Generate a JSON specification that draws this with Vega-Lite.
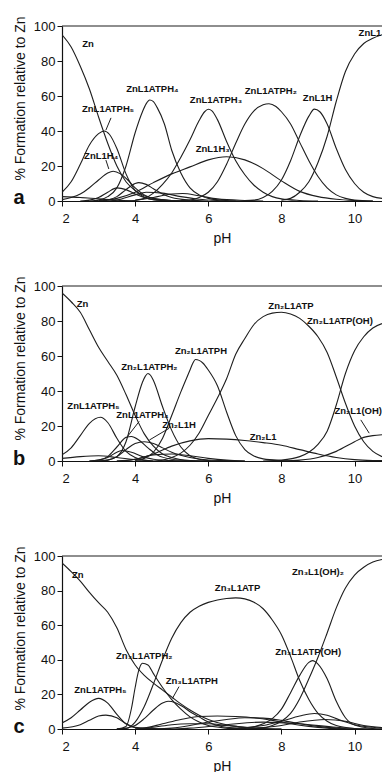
{
"$schema": "https://vega.github.io/schema/vega-lite/v6.json",
"padding": {"left": 12, "top": 15, "right": 0, "bottom": 0},
"config": {
  "font": "Liberation Sans",
  "view": {"stroke": null},
  "axis": {"grid": false, "domainColor": "#111", "domainWidth": 1.2, "tickColor": "#111", "tickSize": 5, "labelColor": "#111", "labelFontSize": 13, "titleColor": "#111", "titleFontSize": 14, "titleFontWeight": "normal", "labelFont": "Liberation Sans", "titleFont": "Liberation Sans"},
  "axisX": {"labelPadding": 6, "titlePadding": 6},
  "axisY": {"labelPadding": 2, "titleX": -38, "titleY": 72, "titleAngle": 270, "titleBaseline": "alphabetic", "titleAlign": "center"}
},
"datasets": {
"a": [
{"sp":"Zn","pH":2,"pct":95},{"sp":"Zn","pH":2.25,"pct":88},{"sp":"Zn","pH":2.5,"pct":77},{"sp":"Zn","pH":2.75,"pct":64},{"sp":"Zn","pH":3,"pct":48},{"sp":"Zn","pH":3.25,"pct":33},{"sp":"Zn","pH":3.5,"pct":20},{"sp":"Zn","pH":3.75,"pct":11},{"sp":"Zn","pH":4,"pct":6},{"sp":"Zn","pH":4.25,"pct":3},{"sp":"Zn","pH":4.5,"pct":1.5},{"sp":"Zn","pH":5,"pct":0.3},{"sp":"Zn","pH":5.5,"pct":0},
{"sp":"ZnL1ATPH5","pH":2,"pct":5},{"sp":"ZnL1ATPH5","pH":2.25,"pct":11},{"sp":"ZnL1ATPH5","pH":2.5,"pct":21},{"sp":"ZnL1ATPH5","pH":2.75,"pct":32},{"sp":"ZnL1ATPH5","pH":3,"pct":38.5},{"sp":"ZnL1ATPH5","pH":3.15,"pct":40},{"sp":"ZnL1ATPH5","pH":3.3,"pct":38},{"sp":"ZnL1ATPH5","pH":3.5,"pct":30},{"sp":"ZnL1ATPH5","pH":3.75,"pct":15.5},{"sp":"ZnL1ATPH5","pH":4,"pct":6},{"sp":"ZnL1ATPH5","pH":4.25,"pct":2.2},{"sp":"ZnL1ATPH5","pH":4.5,"pct":0.8},{"sp":"ZnL1ATPH5","pH":5,"pct":0},
{"sp":"ZnL1H4","pH":2,"pct":0.8},{"sp":"ZnL1H4","pH":2.25,"pct":2},{"sp":"ZnL1H4","pH":2.5,"pct":4},{"sp":"ZnL1H4","pH":2.75,"pct":7.6},{"sp":"ZnL1H4","pH":3,"pct":12},{"sp":"ZnL1H4","pH":3.25,"pct":16},{"sp":"ZnL1H4","pH":3.4,"pct":17},{"sp":"ZnL1H4","pH":3.6,"pct":15.5},{"sp":"ZnL1H4","pH":3.8,"pct":12},{"sp":"ZnL1H4","pH":4,"pct":7.5},{"sp":"ZnL1H4","pH":4.25,"pct":3.5},{"sp":"ZnL1H4","pH":4.5,"pct":1.5},{"sp":"ZnL1H4","pH":5,"pct":0.3},{"sp":"ZnL1H4","pH":5.5,"pct":0},
{"sp":"ZnL1ATPH4","pH":2.75,"pct":0},{"sp":"ZnL1ATPH4","pH":3,"pct":0.5},{"sp":"ZnL1ATPH4","pH":3.25,"pct":2.5},{"sp":"ZnL1ATPH4","pH":3.5,"pct":7.5},{"sp":"ZnL1ATPH4","pH":3.75,"pct":20},{"sp":"ZnL1ATPH4","pH":4,"pct":39},{"sp":"ZnL1ATPH4","pH":4.2,"pct":51},{"sp":"ZnL1ATPH4","pH":4.3,"pct":55.5},{"sp":"ZnL1ATPH4","pH":4.4,"pct":57.7},{"sp":"ZnL1ATPH4","pH":4.5,"pct":56.8},{"sp":"ZnL1ATPH4","pH":4.6,"pct":53.5},{"sp":"ZnL1ATPH4","pH":4.8,"pct":44},{"sp":"ZnL1ATPH4","pH":5,"pct":29},{"sp":"ZnL1ATPH4","pH":5.25,"pct":16},{"sp":"ZnL1ATPH4","pH":5.5,"pct":7.5},{"sp":"ZnL1ATPH4","pH":5.75,"pct":3.5},{"sp":"ZnL1ATPH4","pH":6,"pct":1.5},{"sp":"ZnL1ATPH4","pH":6.5,"pct":0.3},{"sp":"ZnL1ATPH4","pH":7,"pct":0},
{"sp":"ZnL1ATPH3","pH":4,"pct":0.5},{"sp":"ZnL1ATPH3","pH":4.25,"pct":1.5},{"sp":"ZnL1ATPH3","pH":4.5,"pct":4.5},{"sp":"ZnL1ATPH3","pH":4.75,"pct":9.5},{"sp":"ZnL1ATPH3","pH":5,"pct":16},{"sp":"ZnL1ATPH3","pH":5.25,"pct":25},{"sp":"ZnL1ATPH3","pH":5.5,"pct":35},{"sp":"ZnL1ATPH3","pH":5.75,"pct":46},{"sp":"ZnL1ATPH3","pH":5.9,"pct":51},{"sp":"ZnL1ATPH3","pH":6,"pct":52.4},{"sp":"ZnL1ATPH3","pH":6.1,"pct":51.5},{"sp":"ZnL1ATPH3","pH":6.25,"pct":46.5},{"sp":"ZnL1ATPH3","pH":6.5,"pct":34},{"sp":"ZnL1ATPH3","pH":6.75,"pct":23},{"sp":"ZnL1ATPH3","pH":7,"pct":15},{"sp":"ZnL1ATPH3","pH":7.25,"pct":9},{"sp":"ZnL1ATPH3","pH":7.5,"pct":5},{"sp":"ZnL1ATPH3","pH":7.75,"pct":2.5},{"sp":"ZnL1ATPH3","pH":8,"pct":1.2},{"sp":"ZnL1ATPH3","pH":8.5,"pct":0.3},{"sp":"ZnL1ATPH3","pH":9,"pct":0},
{"sp":"ZnL1H3","pH":3,"pct":0.3},{"sp":"ZnL1H3","pH":3.5,"pct":1.5},{"sp":"ZnL1H3","pH":4,"pct":5},{"sp":"ZnL1H3","pH":4.5,"pct":10.5},{"sp":"ZnL1H3","pH":5,"pct":15.5},{"sp":"ZnL1H3","pH":5.5,"pct":19.5},{"sp":"ZnL1H3","pH":6,"pct":23.5},{"sp":"ZnL1H3","pH":6.5,"pct":25.3},{"sp":"ZnL1H3","pH":7,"pct":23.5},{"sp":"ZnL1H3","pH":7.5,"pct":18.5},{"sp":"ZnL1H3","pH":8,"pct":11.5},{"sp":"ZnL1H3","pH":8.5,"pct":5.5},{"sp":"ZnL1H3","pH":9,"pct":2.5},{"sp":"ZnL1H3","pH":9.5,"pct":1},{"sp":"ZnL1H3","pH":10,"pct":0.3},{"sp":"ZnL1H3","pH":10.5,"pct":0},
{"sp":"ZnL1ATPH2","pH":5.25,"pct":0.2},{"sp":"ZnL1ATPH2","pH":5.5,"pct":0.5},{"sp":"ZnL1ATPH2","pH":5.75,"pct":2},{"sp":"ZnL1ATPH2","pH":6,"pct":5},{"sp":"ZnL1ATPH2","pH":6.25,"pct":11},{"sp":"ZnL1ATPH2","pH":6.5,"pct":21},{"sp":"ZnL1ATPH2","pH":6.75,"pct":33},{"sp":"ZnL1ATPH2","pH":7,"pct":44},{"sp":"ZnL1ATPH2","pH":7.25,"pct":51.5},{"sp":"ZnL1ATPH2","pH":7.5,"pct":55},{"sp":"ZnL1ATPH2","pH":7.66,"pct":55.6},{"sp":"ZnL1ATPH2","pH":7.85,"pct":54},{"sp":"ZnL1ATPH2","pH":8,"pct":51},{"sp":"ZnL1ATPH2","pH":8.25,"pct":44},{"sp":"ZnL1ATPH2","pH":8.5,"pct":33.5},{"sp":"ZnL1ATPH2","pH":8.75,"pct":23},{"sp":"ZnL1ATPH2","pH":9,"pct":14},{"sp":"ZnL1ATPH2","pH":9.25,"pct":7.5},{"sp":"ZnL1ATPH2","pH":9.5,"pct":3.5},{"sp":"ZnL1ATPH2","pH":9.75,"pct":1.5},{"sp":"ZnL1ATPH2","pH":10,"pct":0.5},{"sp":"ZnL1ATPH2","pH":10.5,"pct":0},
{"sp":"ZnL1H","pH":7,"pct":0.2},{"sp":"ZnL1H","pH":7.25,"pct":0.5},{"sp":"ZnL1H","pH":7.5,"pct":2},{"sp":"ZnL1H","pH":7.75,"pct":5.5},{"sp":"ZnL1H","pH":8,"pct":12},{"sp":"ZnL1H","pH":8.25,"pct":23},{"sp":"ZnL1H","pH":8.5,"pct":37},{"sp":"ZnL1H","pH":8.75,"pct":48.5},{"sp":"ZnL1H","pH":8.9,"pct":52.5},{"sp":"ZnL1H","pH":9.05,"pct":51},{"sp":"ZnL1H","pH":9.25,"pct":44},{"sp":"ZnL1H","pH":9.5,"pct":30},{"sp":"ZnL1H","pH":9.75,"pct":18},{"sp":"ZnL1H","pH":10,"pct":10},{"sp":"ZnL1H","pH":10.25,"pct":5},{"sp":"ZnL1H","pH":10.5,"pct":2.5},{"sp":"ZnL1H","pH":10.75,"pct":1.5},
{"sp":"ZnL1","pH":8,"pct":0.5},{"sp":"ZnL1","pH":8.25,"pct":1.5},{"sp":"ZnL1","pH":8.5,"pct":5},{"sp":"ZnL1","pH":8.75,"pct":11},{"sp":"ZnL1","pH":9,"pct":22},{"sp":"ZnL1","pH":9.25,"pct":37},{"sp":"ZnL1","pH":9.5,"pct":57},{"sp":"ZnL1","pH":9.75,"pct":74},{"sp":"ZnL1","pH":10,"pct":84},{"sp":"ZnL1","pH":10.25,"pct":90},{"sp":"ZnL1","pH":10.5,"pct":93},{"sp":"ZnL1","pH":10.75,"pct":95},
{"sp":"m1","pH":3,"pct":0},{"sp":"m1","pH":3.25,"pct":0.5},{"sp":"m1","pH":3.5,"pct":2.5},{"sp":"m1","pH":3.75,"pct":6.5},{"sp":"m1","pH":4,"pct":10},{"sp":"m1","pH":4.1,"pct":10.5},{"sp":"m1","pH":4.3,"pct":9.5},{"sp":"m1","pH":4.5,"pct":7},{"sp":"m1","pH":4.75,"pct":4},{"sp":"m1","pH":5,"pct":2},{"sp":"m1","pH":5.5,"pct":0.5},{"sp":"m1","pH":6,"pct":0},
{"sp":"m2","pH":2.5,"pct":0},{"sp":"m2","pH":2.75,"pct":0.5},{"sp":"m2","pH":3,"pct":2},{"sp":"m2","pH":3.25,"pct":5},{"sp":"m2","pH":3.5,"pct":7.5},{"sp":"m2","pH":3.75,"pct":6.5},{"sp":"m2","pH":4,"pct":4},{"sp":"m2","pH":4.25,"pct":2},{"sp":"m2","pH":4.5,"pct":0.8},{"sp":"m2","pH":5,"pct":0.2},{"sp":"m2","pH":5.5,"pct":0},
{"sp":"m3","pH":3.25,"pct":0},{"sp":"m3","pH":3.5,"pct":0.5},{"sp":"m3","pH":4,"pct":3.5},{"sp":"m3","pH":4.3,"pct":5},{"sp":"m3","pH":4.75,"pct":4.5},{"sp":"m3","pH":5.25,"pct":2.5},{"sp":"m3","pH":5.75,"pct":1},{"sp":"m3","pH":6.25,"pct":0.3},{"sp":"m3","pH":6.75,"pct":0},
{"sp":"m4","pH":3.75,"pct":0},{"sp":"m4","pH":4,"pct":0.3},{"sp":"m4","pH":4.5,"pct":2},{"sp":"m4","pH":5,"pct":4},{"sp":"m4","pH":5.3,"pct":4.3},{"sp":"m4","pH":5.75,"pct":3},{"sp":"m4","pH":6.25,"pct":1.2},{"sp":"m4","pH":7,"pct":0.3},{"sp":"m4","pH":7.5,"pct":0},
{"sp":"m5","pH":2,"pct":2.5},{"sp":"m5","pH":2.5,"pct":2},{"sp":"m5","pH":3,"pct":1.2},{"sp":"m5","pH":3.5,"pct":0.5},{"sp":"m5","pH":4,"pct":0}
],
"b": [
{"sp":"Zn","pH":2,"pct":96},{"sp":"Zn","pH":2.25,"pct":91},{"sp":"Zn","pH":2.5,"pct":85},{"sp":"Zn","pH":2.75,"pct":75},{"sp":"Zn","pH":3,"pct":65},{"sp":"Zn","pH":3.25,"pct":57},{"sp":"Zn","pH":3.5,"pct":49},{"sp":"Zn","pH":3.75,"pct":38},{"sp":"Zn","pH":4,"pct":26},{"sp":"Zn","pH":4.25,"pct":15.5},{"sp":"Zn","pH":4.5,"pct":8.5},{"sp":"Zn","pH":4.75,"pct":4},{"sp":"Zn","pH":5,"pct":2},{"sp":"Zn","pH":5.5,"pct":0.3},{"sp":"Zn","pH":6,"pct":0},
{"sp":"ZnL1ATPH5","pH":2,"pct":3.5},{"sp":"ZnL1ATPH5","pH":2.25,"pct":7.5},{"sp":"ZnL1ATPH5","pH":2.5,"pct":14.5},{"sp":"ZnL1ATPH5","pH":2.75,"pct":21.5},{"sp":"ZnL1ATPH5","pH":3.05,"pct":25},{"sp":"ZnL1ATPH5","pH":3.25,"pct":22},{"sp":"ZnL1ATPH5","pH":3.5,"pct":13},{"sp":"ZnL1ATPH5","pH":3.75,"pct":5.5},{"sp":"ZnL1ATPH5","pH":4,"pct":2},{"sp":"ZnL1ATPH5","pH":4.25,"pct":0.6},{"sp":"ZnL1ATPH5","pH":4.5,"pct":0},
{"sp":"ZnL1ATPH4","pH":2.75,"pct":0},{"sp":"ZnL1ATPH4","pH":3,"pct":0.5},{"sp":"ZnL1ATPH4","pH":3.25,"pct":2.5},{"sp":"ZnL1ATPH4","pH":3.5,"pct":8},{"sp":"ZnL1ATPH4","pH":3.75,"pct":13.5},{"sp":"ZnL1ATPH4","pH":3.9,"pct":14},{"sp":"ZnL1ATPH4","pH":4.1,"pct":12},{"sp":"ZnL1ATPH4","pH":4.35,"pct":7.5},{"sp":"ZnL1ATPH4","pH":4.6,"pct":3.5},{"sp":"ZnL1ATPH4","pH":5,"pct":1},{"sp":"ZnL1ATPH4","pH":5.5,"pct":0.2},{"sp":"ZnL1ATPH4","pH":6,"pct":0},
{"sp":"Zn2L1H","pH":3,"pct":0},{"sp":"Zn2L1H","pH":3.25,"pct":0.5},{"sp":"Zn2L1H","pH":3.5,"pct":2.5},{"sp":"Zn2L1H","pH":3.75,"pct":6.5},{"sp":"Zn2L1H","pH":4,"pct":10},{"sp":"Zn2L1H","pH":4.25,"pct":11},{"sp":"Zn2L1H","pH":4.5,"pct":10},{"sp":"Zn2L1H","pH":4.75,"pct":7.5},{"sp":"Zn2L1H","pH":5,"pct":5},{"sp":"Zn2L1H","pH":5.5,"pct":2},{"sp":"Zn2L1H","pH":6,"pct":0.6},{"sp":"Zn2L1H","pH":6.5,"pct":0.2},{"sp":"Zn2L1H","pH":7,"pct":0},
{"sp":"Zn2L1ATPH2","pH":3,"pct":0},{"sp":"Zn2L1ATPH2","pH":3.25,"pct":0.5},{"sp":"Zn2L1ATPH2","pH":3.5,"pct":2.5},{"sp":"Zn2L1ATPH2","pH":3.75,"pct":11},{"sp":"Zn2L1ATPH2","pH":4,"pct":31},{"sp":"Zn2L1ATPH2","pH":4.2,"pct":45},{"sp":"Zn2L1ATPH2","pH":4.28,"pct":48.5},{"sp":"Zn2L1ATPH2","pH":4.35,"pct":50},{"sp":"Zn2L1ATPH2","pH":4.42,"pct":49},{"sp":"Zn2L1ATPH2","pH":4.5,"pct":46},{"sp":"Zn2L1ATPH2","pH":4.75,"pct":31},{"sp":"Zn2L1ATPH2","pH":5,"pct":17.5},{"sp":"Zn2L1ATPH2","pH":5.25,"pct":8},{"sp":"Zn2L1ATPH2","pH":5.5,"pct":3},{"sp":"Zn2L1ATPH2","pH":5.75,"pct":1},{"sp":"Zn2L1ATPH2","pH":6,"pct":0.3},{"sp":"Zn2L1ATPH2","pH":6.5,"pct":0},
{"sp":"Zn2L1ATPH","pH":4,"pct":0.3},{"sp":"Zn2L1ATPH","pH":4.25,"pct":1.5},{"sp":"Zn2L1ATPH","pH":4.5,"pct":5},{"sp":"Zn2L1ATPH","pH":4.75,"pct":13},{"sp":"Zn2L1ATPH","pH":5,"pct":26},{"sp":"Zn2L1ATPH","pH":5.25,"pct":39.5},{"sp":"Zn2L1ATPH","pH":5.5,"pct":52},{"sp":"Zn2L1ATPH","pH":5.58,"pct":56},{"sp":"Zn2L1ATPH","pH":5.65,"pct":58},{"sp":"Zn2L1ATPH","pH":5.75,"pct":57.5},{"sp":"Zn2L1ATPH","pH":5.85,"pct":56},{"sp":"Zn2L1ATPH","pH":6,"pct":52},{"sp":"Zn2L1ATPH","pH":6.25,"pct":43},{"sp":"Zn2L1ATPH","pH":6.5,"pct":28},{"sp":"Zn2L1ATPH","pH":6.75,"pct":14.5},{"sp":"Zn2L1ATPH","pH":7,"pct":6.5},{"sp":"Zn2L1ATPH","pH":7.25,"pct":2.8},{"sp":"Zn2L1ATPH","pH":7.5,"pct":1.2},{"sp":"Zn2L1ATPH","pH":8,"pct":0.3},{"sp":"Zn2L1ATPH","pH":8.5,"pct":0},
{"sp":"Zn2L1ATP","pH":4.5,"pct":0},{"sp":"Zn2L1ATP","pH":4.75,"pct":0.5},{"sp":"Zn2L1ATP","pH":5,"pct":2},{"sp":"Zn2L1ATP","pH":5.25,"pct":4.5},{"sp":"Zn2L1ATP","pH":5.5,"pct":9},{"sp":"Zn2L1ATP","pH":5.75,"pct":16},{"sp":"Zn2L1ATP","pH":6,"pct":26},{"sp":"Zn2L1ATP","pH":6.25,"pct":36},{"sp":"Zn2L1ATP","pH":6.5,"pct":47},{"sp":"Zn2L1ATP","pH":6.75,"pct":61},{"sp":"Zn2L1ATP","pH":7,"pct":70},{"sp":"Zn2L1ATP","pH":7.25,"pct":78},{"sp":"Zn2L1ATP","pH":7.5,"pct":82.5},{"sp":"Zn2L1ATP","pH":7.75,"pct":84.5},{"sp":"Zn2L1ATP","pH":8,"pct":85},{"sp":"Zn2L1ATP","pH":8.25,"pct":84},{"sp":"Zn2L1ATP","pH":8.5,"pct":81.5},{"sp":"Zn2L1ATP","pH":8.75,"pct":77},{"sp":"Zn2L1ATP","pH":9,"pct":71},{"sp":"Zn2L1ATP","pH":9.25,"pct":62},{"sp":"Zn2L1ATP","pH":9.5,"pct":48},{"sp":"Zn2L1ATP","pH":9.75,"pct":33},{"sp":"Zn2L1ATP","pH":10,"pct":20},{"sp":"Zn2L1ATP","pH":10.25,"pct":11},{"sp":"Zn2L1ATP","pH":10.5,"pct":5.5},{"sp":"Zn2L1ATP","pH":10.75,"pct":2.5},
{"sp":"Zn2L1ATPOH","pH":7.5,"pct":0},{"sp":"Zn2L1ATPOH","pH":8,"pct":0.5},{"sp":"Zn2L1ATPOH","pH":8.5,"pct":2.5},{"sp":"Zn2L1ATPOH","pH":8.75,"pct":5},{"sp":"Zn2L1ATPOH","pH":9,"pct":9.5},{"sp":"Zn2L1ATPOH","pH":9.25,"pct":17},{"sp":"Zn2L1ATPOH","pH":9.5,"pct":32},{"sp":"Zn2L1ATPOH","pH":9.75,"pct":50},{"sp":"Zn2L1ATPOH","pH":10,"pct":63},{"sp":"Zn2L1ATPOH","pH":10.25,"pct":71},{"sp":"Zn2L1ATPOH","pH":10.5,"pct":76},{"sp":"Zn2L1ATPOH","pH":10.75,"pct":78.5},
{"sp":"Zn2L1","pH":3.5,"pct":0},{"sp":"Zn2L1","pH":3.75,"pct":0.3},{"sp":"Zn2L1","pH":4,"pct":1},{"sp":"Zn2L1","pH":4.5,"pct":4},{"sp":"Zn2L1","pH":5,"pct":8.5},{"sp":"Zn2L1","pH":5.5,"pct":11.5},{"sp":"Zn2L1","pH":6,"pct":12.8},{"sp":"Zn2L1","pH":6.5,"pct":12.5},{"sp":"Zn2L1","pH":7,"pct":11.7},{"sp":"Zn2L1","pH":7.5,"pct":10.5},{"sp":"Zn2L1","pH":8,"pct":9},{"sp":"Zn2L1","pH":8.5,"pct":6.5},{"sp":"Zn2L1","pH":9,"pct":4},{"sp":"Zn2L1","pH":9.5,"pct":2},{"sp":"Zn2L1","pH":10,"pct":0.8},{"sp":"Zn2L1","pH":10.5,"pct":0.3},{"sp":"Zn2L1","pH":10.75,"pct":0.2},
{"sp":"Zn2L1OH","pH":8,"pct":0},{"sp":"Zn2L1OH","pH":8.5,"pct":0.5},{"sp":"Zn2L1OH","pH":9,"pct":2},{"sp":"Zn2L1OH","pH":9.5,"pct":5.5},{"sp":"Zn2L1OH","pH":10,"pct":11},{"sp":"Zn2L1OH","pH":10.25,"pct":13.5},{"sp":"Zn2L1OH","pH":10.5,"pct":14.5},{"sp":"Zn2L1OH","pH":10.75,"pct":15},
{"sp":"mb1","pH":2.75,"pct":0},{"sp":"mb1","pH":3,"pct":0.5},{"sp":"mb1","pH":3.25,"pct":2},{"sp":"mb1","pH":3.5,"pct":5},{"sp":"mb1","pH":3.65,"pct":6},{"sp":"mb1","pH":3.9,"pct":5},{"sp":"mb1","pH":4.2,"pct":2.5},{"sp":"mb1","pH":4.5,"pct":1},{"sp":"mb1","pH":5,"pct":0.2},{"sp":"mb1","pH":5.5,"pct":0},
{"sp":"mb2","pH":3.5,"pct":0},{"sp":"mb2","pH":4,"pct":1},{"sp":"mb2","pH":4.5,"pct":3.5},{"sp":"mb2","pH":5,"pct":4},{"sp":"mb2","pH":5.5,"pct":3},{"sp":"mb2","pH":6,"pct":1.5},{"sp":"mb2","pH":6.5,"pct":0.5},{"sp":"mb2","pH":7,"pct":0},
{"sp":"mb3","pH":2,"pct":1.5},{"sp":"mb3","pH":2.5,"pct":2.5},{"sp":"mb3","pH":3,"pct":3},{"sp":"mb3","pH":3.5,"pct":2},{"sp":"mb3","pH":4,"pct":0.8},{"sp":"mb3","pH":4.5,"pct":0}
],
"c": [
{"sp":"Zn","pH":2,"pct":96},{"sp":"Zn","pH":2.25,"pct":91},{"sp":"Zn","pH":2.5,"pct":85.5},{"sp":"Zn","pH":2.75,"pct":79},{"sp":"Zn","pH":3,"pct":73},{"sp":"Zn","pH":3.25,"pct":67.5},{"sp":"Zn","pH":3.5,"pct":58.5},{"sp":"Zn","pH":3.75,"pct":46},{"sp":"Zn","pH":4,"pct":37},{"sp":"Zn","pH":4.25,"pct":31},{"sp":"Zn","pH":4.5,"pct":26.5},{"sp":"Zn","pH":4.75,"pct":22.5},{"sp":"Zn","pH":5,"pct":18.5},{"sp":"Zn","pH":5.25,"pct":14.5},{"sp":"Zn","pH":5.5,"pct":11},{"sp":"Zn","pH":5.75,"pct":8},{"sp":"Zn","pH":6,"pct":5.5},{"sp":"Zn","pH":6.5,"pct":2.5},{"sp":"Zn","pH":7,"pct":1},{"sp":"Zn","pH":7.5,"pct":0.3},{"sp":"Zn","pH":8,"pct":0},
{"sp":"ZnL1ATPH5","pH":2,"pct":3.5},{"sp":"ZnL1ATPH5","pH":2.25,"pct":6.5},{"sp":"ZnL1ATPH5","pH":2.5,"pct":11},{"sp":"ZnL1ATPH5","pH":2.75,"pct":15.5},{"sp":"ZnL1ATPH5","pH":3,"pct":17.7},{"sp":"ZnL1ATPH5","pH":3.25,"pct":15},{"sp":"ZnL1ATPH5","pH":3.5,"pct":8.5},{"sp":"ZnL1ATPH5","pH":3.75,"pct":3},{"sp":"ZnL1ATPH5","pH":4,"pct":0.8},{"sp":"ZnL1ATPH5","pH":4.5,"pct":0},
{"sp":"mc0","pH":2,"pct":0.5},{"sp":"mc0","pH":2.5,"pct":2.5},{"sp":"mc0","pH":2.75,"pct":5},{"sp":"mc0","pH":3,"pct":7.5},{"sp":"mc0","pH":3.2,"pct":8},{"sp":"mc0","pH":3.5,"pct":6.5},{"sp":"mc0","pH":3.75,"pct":3},{"sp":"mc0","pH":4,"pct":1},{"sp":"mc0","pH":4.5,"pct":0.2},{"sp":"mc0","pH":5,"pct":0},
{"sp":"Zn3L1ATPH2","pH":3.5,"pct":0},{"sp":"Zn3L1ATPH2","pH":3.75,"pct":1.5},{"sp":"Zn3L1ATPH2","pH":3.9,"pct":12},{"sp":"Zn3L1ATPH2","pH":4,"pct":24},{"sp":"Zn3L1ATPH2","pH":4.1,"pct":34},{"sp":"Zn3L1ATPH2","pH":4.2,"pct":38},{"sp":"Zn3L1ATPH2","pH":4.35,"pct":37},{"sp":"Zn3L1ATPH2","pH":4.5,"pct":32},{"sp":"Zn3L1ATPH2","pH":4.75,"pct":24},{"sp":"Zn3L1ATPH2","pH":5,"pct":17},{"sp":"Zn3L1ATPH2","pH":5.25,"pct":11.5},{"sp":"Zn3L1ATPH2","pH":5.5,"pct":7},{"sp":"Zn3L1ATPH2","pH":5.75,"pct":4},{"sp":"Zn3L1ATPH2","pH":6,"pct":2},{"sp":"Zn3L1ATPH2","pH":6.5,"pct":0.5},{"sp":"Zn3L1ATPH2","pH":7,"pct":0},
{"sp":"Zn3L1ATPH","pH":3.5,"pct":0},{"sp":"Zn3L1ATPH","pH":3.75,"pct":0.5},{"sp":"Zn3L1ATPH","pH":4,"pct":2},{"sp":"Zn3L1ATPH","pH":4.25,"pct":6},{"sp":"Zn3L1ATPH","pH":4.5,"pct":11},{"sp":"Zn3L1ATPH","pH":4.75,"pct":15},{"sp":"Zn3L1ATPH","pH":4.9,"pct":16},{"sp":"Zn3L1ATPH","pH":5.1,"pct":15.2},{"sp":"Zn3L1ATPH","pH":5.3,"pct":13},{"sp":"Zn3L1ATPH","pH":5.5,"pct":10},{"sp":"Zn3L1ATPH","pH":5.75,"pct":7},{"sp":"Zn3L1ATPH","pH":6,"pct":4},{"sp":"Zn3L1ATPH","pH":6.25,"pct":2},{"sp":"Zn3L1ATPH","pH":6.5,"pct":1},{"sp":"Zn3L1ATPH","pH":7,"pct":0.3},{"sp":"Zn3L1ATPH","pH":7.5,"pct":0},
{"sp":"Zn3L1ATP","pH":3.5,"pct":0},{"sp":"Zn3L1ATP","pH":3.75,"pct":0.3},{"sp":"Zn3L1ATP","pH":4,"pct":4},{"sp":"Zn3L1ATP","pH":4.25,"pct":13},{"sp":"Zn3L1ATP","pH":4.5,"pct":26},{"sp":"Zn3L1ATP","pH":4.75,"pct":40},{"sp":"Zn3L1ATP","pH":5,"pct":52.5},{"sp":"Zn3L1ATP","pH":5.25,"pct":61.5},{"sp":"Zn3L1ATP","pH":5.5,"pct":67.5},{"sp":"Zn3L1ATP","pH":5.75,"pct":71},{"sp":"Zn3L1ATP","pH":6,"pct":73.2},{"sp":"Zn3L1ATP","pH":6.25,"pct":74.6},{"sp":"Zn3L1ATP","pH":6.5,"pct":75.4},{"sp":"Zn3L1ATP","pH":6.75,"pct":75.8},{"sp":"Zn3L1ATP","pH":7,"pct":75.2},{"sp":"Zn3L1ATP","pH":7.25,"pct":73.3},{"sp":"Zn3L1ATP","pH":7.5,"pct":69.5},{"sp":"Zn3L1ATP","pH":7.75,"pct":63},{"sp":"Zn3L1ATP","pH":8,"pct":54.5},{"sp":"Zn3L1ATP","pH":8.25,"pct":42},{"sp":"Zn3L1ATP","pH":8.5,"pct":28},{"sp":"Zn3L1ATP","pH":8.75,"pct":17},{"sp":"Zn3L1ATP","pH":9,"pct":9},{"sp":"Zn3L1ATP","pH":9.25,"pct":4.5},{"sp":"Zn3L1ATP","pH":9.5,"pct":2},{"sp":"Zn3L1ATP","pH":10,"pct":0.3},{"sp":"Zn3L1ATP","pH":10.5,"pct":0},
{"sp":"Zn3L1ATPOH","pH":6.5,"pct":0},{"sp":"Zn3L1ATPOH","pH":7,"pct":0.5},{"sp":"Zn3L1ATPOH","pH":7.5,"pct":3},{"sp":"Zn3L1ATPOH","pH":7.75,"pct":6},{"sp":"Zn3L1ATPOH","pH":8,"pct":11.5},{"sp":"Zn3L1ATPOH","pH":8.25,"pct":21},{"sp":"Zn3L1ATPOH","pH":8.5,"pct":31},{"sp":"Zn3L1ATPOH","pH":8.75,"pct":38.5},{"sp":"Zn3L1ATPOH","pH":8.85,"pct":39.5},{"sp":"Zn3L1ATPOH","pH":9,"pct":37.5},{"sp":"Zn3L1ATPOH","pH":9.25,"pct":29},{"sp":"Zn3L1ATPOH","pH":9.5,"pct":16},{"sp":"Zn3L1ATPOH","pH":9.75,"pct":6.5},{"sp":"Zn3L1ATPOH","pH":10,"pct":2.3},{"sp":"Zn3L1ATPOH","pH":10.5,"pct":0.3},{"sp":"Zn3L1ATPOH","pH":10.75,"pct":0},
{"sp":"Zn3L1OH2","pH":7,"pct":0},{"sp":"Zn3L1OH2","pH":7.5,"pct":0.5},{"sp":"Zn3L1OH2","pH":7.75,"pct":2},{"sp":"Zn3L1OH2","pH":8,"pct":4.5},{"sp":"Zn3L1OH2","pH":8.25,"pct":9},{"sp":"Zn3L1OH2","pH":8.5,"pct":17.5},{"sp":"Zn3L1OH2","pH":8.75,"pct":29},{"sp":"Zn3L1OH2","pH":9,"pct":41.5},{"sp":"Zn3L1OH2","pH":9.25,"pct":55.5},{"sp":"Zn3L1OH2","pH":9.5,"pct":70},{"sp":"Zn3L1OH2","pH":9.75,"pct":81.5},{"sp":"Zn3L1OH2","pH":10,"pct":89},{"sp":"Zn3L1OH2","pH":10.25,"pct":93.5},{"sp":"Zn3L1OH2","pH":10.5,"pct":96.5},{"sp":"Zn3L1OH2","pH":10.75,"pct":98},
{"sp":"mc1","pH":4,"pct":0},{"sp":"mc1","pH":4.25,"pct":0.5},{"sp":"mc1","pH":4.75,"pct":3},{"sp":"mc1","pH":5.25,"pct":5.5},{"sp":"mc1","pH":5.75,"pct":7.2},{"sp":"mc1","pH":6.25,"pct":7.5},{"sp":"mc1","pH":6.75,"pct":7.2},{"sp":"mc1","pH":7.25,"pct":6.5},{"sp":"mc1","pH":7.75,"pct":5},{"sp":"mc1","pH":8.25,"pct":3},{"sp":"mc1","pH":8.75,"pct":1.5},{"sp":"mc1","pH":9.25,"pct":0.5},{"sp":"mc1","pH":9.75,"pct":0},
{"sp":"mc2","pH":4.5,"pct":0},{"sp":"mc2","pH":5,"pct":0.5},{"sp":"mc2","pH":5.5,"pct":2},{"sp":"mc2","pH":6,"pct":4},{"sp":"mc2","pH":6.5,"pct":5.5},{"sp":"mc2","pH":7,"pct":6.5},{"sp":"mc2","pH":7.5,"pct":6.3},{"sp":"mc2","pH":8,"pct":5},{"sp":"mc2","pH":8.5,"pct":3},{"sp":"mc2","pH":9,"pct":1.5},{"sp":"mc2","pH":9.5,"pct":0.5},{"sp":"mc2","pH":10,"pct":0},
{"sp":"mc3","pH":5,"pct":0},{"sp":"mc3","pH":5.5,"pct":0.5},{"sp":"mc3","pH":6.5,"pct":2.5},{"sp":"mc3","pH":7.5,"pct":4},{"sp":"mc3","pH":8.5,"pct":3},{"sp":"mc3","pH":9.5,"pct":1},{"sp":"mc3","pH":10,"pct":0.3},{"sp":"mc3","pH":10.5,"pct":0},
{"sp":"mc4","pH":6.5,"pct":0},{"sp":"mc4","pH":7,"pct":0.8},{"sp":"mc4","pH":7.5,"pct":2},{"sp":"mc4","pH":8,"pct":4.5},{"sp":"mc4","pH":8.5,"pct":7.5},{"sp":"mc4","pH":8.9,"pct":9},{"sp":"mc4","pH":9.25,"pct":8},{"sp":"mc4","pH":9.5,"pct":6},{"sp":"mc4","pH":10,"pct":2.5},{"sp":"mc4","pH":10.5,"pct":1},{"sp":"mc4","pH":10.75,"pct":0.5},
{"sp":"mc5","pH":7,"pct":0},{"sp":"mc5","pH":7.5,"pct":0.8},{"sp":"mc5","pH":8,"pct":2},{"sp":"mc5","pH":8.5,"pct":4},{"sp":"mc5","pH":9.2,"pct":5.5},{"sp":"mc5","pH":9.75,"pct":4.5},{"sp":"mc5","pH":10.25,"pct":2},{"sp":"mc5","pH":10.75,"pct":0.8},
{"sp":"mc6","pH":4,"pct":0},{"sp":"mc6","pH":4.5,"pct":1},{"sp":"mc6","pH":5,"pct":2.5},{"sp":"mc6","pH":5.5,"pct":3},{"sp":"mc6","pH":6,"pct":3},{"sp":"mc6","pH":6.5,"pct":2},{"sp":"mc6","pH":7,"pct":1},{"sp":"mc6","pH":7.5,"pct":0.3},{"sp":"mc6","pH":8,"pct":0}
],
"la": [
{"t":"Zn","pH":2.71,"pct":90},{"t":"ZnL1","pH":10.42,"pct":96},{"t":"ZnL1ATPH₄","pH":4.47,"pct":64},{"t":"ZnL1ATPH₃","pH":6.21,"pct":58},{"t":"ZnL1ATPH₂","pH":7.71,"pct":63},{"t":"ZnL1H","pH":8.99,"pct":59},{"t":"ZnL1ATPH₅","pH":3.26,"pct":52.5},{"t":"ZnL1H₄","pH":3.07,"pct":26},{"t":"ZnL1H₃","pH":6.12,"pct":29.7}
],
"lb": [
{"t":"Zn","pH":2.56,"pct":89.5},{"t":"Zn₂L1ATP","pH":8.26,"pct":88.5},{"t":"Zn₂L1ATP(OH)","pH":9.6,"pct":80},{"t":"Zn₂L1ATPH","pH":5.8,"pct":63},{"t":"Zn₂L1ATPH₂","pH":4.39,"pct":54},{"t":"ZnL1ATPH₅","pH":2.86,"pct":31.2},{"t":"ZnL1ATPH₄","pH":4.2,"pct":26.4},{"t":"Zn₂L1H","pH":5.2,"pct":20.3},{"t":"Zn₂L1","pH":7.5,"pct":14},{"t":"Zn₂L1(OH)","pH":10.1,"pct":28.3}
],
"lc": [
{"t":"Zn","pH":2.43,"pct":89},{"t":"Zn₃L1ATP","pH":6.8,"pct":81.5},{"t":"Zn₃L1(OH)₂","pH":9.0,"pct":91},{"t":"Zn₃L1ATP(OH)","pH":8.73,"pct":44.5},{"t":"Zn₃L1ATPH₂","pH":4.25,"pct":42.2},{"t":"Zn₃L1ATPH","pH":5.55,"pct":27.6},{"t":"ZnL1ATPH₅","pH":3.05,"pct":22.5}
],
"aa": [
{"pH":3.34,"pct":47.5,"pH2":3.2,"pct2":40.5},{"pH":3.2,"pct":23.4,"pH2":3.28,"pct2":18.3}
],
"ab": [
{"pH":4.11,"pct":22.6,"pH2":3.79,"pct2":14},{"pH":4.93,"pct":18.7,"pH2":4.39,"pct2":12},{"pH":10.17,"pct":23.5,"pH2":10.4,"pct2":15.9}
],
"ac": [
{"pH":5.2,"pct":24.5,"pH2":5.02,"pct2":17.7}
]
},
"spacing": 40,
"vconcat": [
{"spacing": 30, "vconcat": [
{"width": 320, "height": 175, "layer": [
 {"data": {"name": "a"}, "mark": {"type": "line", "interpolate": "monotone", "color": "#1e1e1e", "strokeWidth": 1.1, "clip": true},
  "encoding": {"x": {"field": "pH", "type": "quantitative", "title": "pH", "scale": {"domain": [2, 10.75], "nice": false}, "axis": {"values": [2, 4, 6, 8, 10]}}, "y": {"field": "pct", "type": "quantitative", "title": "% Formation relative to Zn", "scale": {"domain": [0, 100]}}, "detail": {"field": "sp"}}},
 {"data": {"values": [{}]}, "mark": {"type": "rule", "color": "#1e1e1e", "strokeWidth": 1.2}, "encoding": {"y": {"datum": 100}}},
 {"data": {"name": "la"}, "mark": {"type": "text", "fontWeight": "bold", "fontSize": 9.5, "color": "#111", "clip": true},
  "encoding": {"x": {"field": "pH", "type": "quantitative", "title": "pH"}, "y": {"field": "pct", "type": "quantitative", "title": "% Formation relative to Zn"}, "text": {"field": "t"}}},
 {"data": {"name": "aa"}, "mark": {"type": "rule", "color": "#1e1e1e", "strokeWidth": 1},
  "encoding": {"x": {"field": "pH", "type": "quantitative", "title": "pH"}, "y": {"field": "pct", "type": "quantitative", "title": "% Formation relative to Zn"}, "x2": {"field": "pH2"}, "y2": {"field": "pct2"}}},
 {"data": {"values": [{}]}, "mark": {"type": "text", "fontSize": 20, "fontWeight": "bold", "dx": -43, "dy": 3, "baseline": "alphabetic", "align": "center", "color": "#111"},
  "encoding": {"x": {"datum": 2}, "y": {"datum": 0}, "text": {"value": "a"}}}
]},
{"width": 320, "height": 175, "layer": [
 {"data": {"name": "b"}, "mark": {"type": "line", "interpolate": "monotone", "color": "#1e1e1e", "strokeWidth": 1.1, "clip": true},
  "encoding": {"x": {"field": "pH", "type": "quantitative", "title": "pH", "scale": {"domain": [2, 10.75], "nice": false}, "axis": {"values": [2, 4, 6, 8, 10]}}, "y": {"field": "pct", "type": "quantitative", "title": "% Formation relative to Zn", "scale": {"domain": [0, 100]}}, "detail": {"field": "sp"}}},
 {"data": {"values": [{}]}, "mark": {"type": "rule", "color": "#1e1e1e", "strokeWidth": 1.2}, "encoding": {"y": {"datum": 100}}},
 {"data": {"name": "lb"}, "mark": {"type": "text", "fontWeight": "bold", "fontSize": 9.5, "color": "#111", "clip": true},
  "encoding": {"x": {"field": "pH", "type": "quantitative", "title": "pH"}, "y": {"field": "pct", "type": "quantitative", "title": "% Formation relative to Zn"}, "text": {"field": "t"}}},
 {"data": {"name": "ab"}, "mark": {"type": "rule", "color": "#1e1e1e", "strokeWidth": 1},
  "encoding": {"x": {"field": "pH", "type": "quantitative", "title": "pH"}, "y": {"field": "pct", "type": "quantitative", "title": "% Formation relative to Zn"}, "x2": {"field": "pH2"}, "y2": {"field": "pct2"}}},
 {"data": {"values": [{}]}, "mark": {"type": "text", "fontSize": 20, "fontWeight": "bold", "dx": -43, "dy": 4, "baseline": "alphabetic", "align": "center", "color": "#111"},
  "encoding": {"x": {"datum": 2}, "y": {"datum": 0}, "text": {"value": "b"}}}
]}
]},
{"width": 320, "height": 173, "layer": [
 {"data": {"name": "c"}, "mark": {"type": "line", "interpolate": "monotone", "color": "#1e1e1e", "strokeWidth": 1.1, "clip": true},
  "encoding": {"x": {"field": "pH", "type": "quantitative", "title": "pH", "scale": {"domain": [2, 10.75], "nice": false}, "axis": {"values": [2, 4, 6, 8, 10]}}, "y": {"field": "pct", "type": "quantitative", "title": "% Formation relative to Zn", "scale": {"domain": [0, 100]}}, "detail": {"field": "sp"}}},
 {"data": {"values": [{}]}, "mark": {"type": "rule", "color": "#1e1e1e", "strokeWidth": 1.2}, "encoding": {"y": {"datum": 100}}},
 {"data": {"name": "lc"}, "mark": {"type": "text", "fontWeight": "bold", "fontSize": 9.5, "color": "#111", "clip": true},
  "encoding": {"x": {"field": "pH", "type": "quantitative", "title": "pH"}, "y": {"field": "pct", "type": "quantitative", "title": "% Formation relative to Zn"}, "text": {"field": "t"}}},
 {"data": {"name": "ac"}, "mark": {"type": "rule", "color": "#1e1e1e", "strokeWidth": 1},
  "encoding": {"x": {"field": "pH", "type": "quantitative", "title": "pH"}, "y": {"field": "pct", "type": "quantitative", "title": "% Formation relative to Zn"}, "x2": {"field": "pH2"}, "y2": {"field": "pct2"}}},
 {"data": {"values": [{}]}, "mark": {"type": "text", "fontSize": 20, "fontWeight": "bold", "dx": -43, "dy": 4, "baseline": "alphabetic", "align": "center", "color": "#111"},
  "encoding": {"x": {"datum": 2}, "y": {"datum": 0}, "text": {"value": "c"}}}
]}
]
}
